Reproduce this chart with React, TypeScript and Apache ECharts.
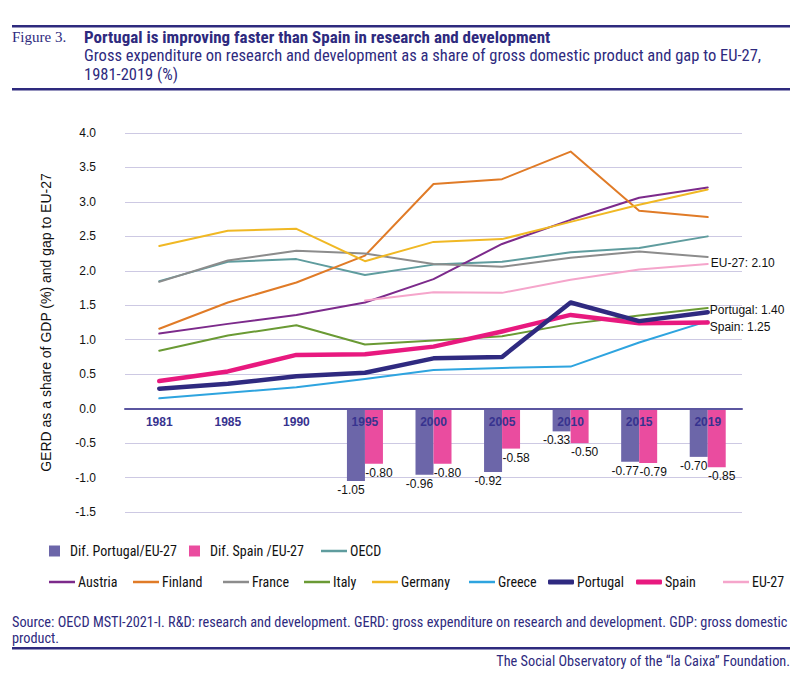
import { useEffect, useRef } from 'react'
import * as echarts from 'echarts'

// --- data ---
const years = ['1981', '1985', '1990', '1995', '2000', '2005', '2010', '2015', '2019']

const austria = [1.09, 1.23, 1.36, 1.54, 1.88, 2.39, 2.74, 3.06, 3.21]
const finland = [1.16, 1.54, 1.83, 2.22, 3.26, 3.33, 3.73, 2.87, 2.78]
const france = [1.84, 2.15, 2.29, 2.25, 2.1, 2.06, 2.19, 2.28, 2.2]
const italy = [0.84, 1.06, 1.21, 0.93, 0.99, 1.05, 1.23, 1.35, 1.46]
const germany = [2.36, 2.58, 2.61, 2.14, 2.42, 2.46, 2.71, 2.96, 3.18]
const greece = [0.15, 0.23, 0.31, 0.43, 0.56, 0.59, 0.61, 0.96, 1.27]
const portugal = [0.29, 0.36, 0.47, 0.52, 0.73, 0.75, 1.54, 1.27, 1.4]
const spain = [0.4, 0.54, 0.78, 0.79, 0.9, 1.12, 1.36, 1.24, 1.25]
const eu27 = [null, null, null, 1.57, 1.69, 1.68, 1.87, 2.02, 2.1]
const oecd = [1.85, 2.13, 2.17, 1.94, 2.09, 2.13, 2.27, 2.33, 2.5]

const gapPortugal = [null, null, null, -1.05, -0.96, -0.92, -0.33, -0.77, -0.7]
const gapSpain = [null, null, null, -0.8, -0.8, -0.58, -0.5, -0.79, -0.85]

const Y_MIN = -1.5
const Y_MAX = 4
const Y_STEP = 0.5

const NAVY = '#2e2a7e'
const NARROW = '"Liberation Sans Narrow", "Arial Narrow", "Roboto Condensed", "Liberation Sans", sans-serif'
const SANS = '"Liberation Sans", Arial, Helvetica, sans-serif'

const lineSeries = [
  { name: 'OECD', data: oecd, color: '#5f9c9e', width: 2 },
  { name: 'Austria', data: austria, color: '#7c2a8b', width: 2 },
  { name: 'Finland', data: finland, color: '#e07b27', width: 2 },
  { name: 'France', data: france, color: '#8c8c8c', width: 2 },
  { name: 'Italy', data: italy, color: '#6a9a34', width: 2 },
  { name: 'Germany', data: germany, color: '#f0b824', width: 2 },
  { name: 'Greece', data: greece, color: '#2ea4df', width: 2 },
  { name: 'EU-27', data: eu27, color: '#f5a5cb', width: 2 },
  { name: 'Spain', data: spain, color: '#e8197f', width: 4.5 },
  { name: 'Portugal', data: portugal, color: '#2f2a80', width: 4.5 },
]

const endLabels: Record<string, { text: string; offset: number[] }> = {
  'EU-27': { text: 'EU-27: 2.10', offset: [-2, -1] },
  Portugal: { text: 'Portugal: 1.40', offset: [-3, -2] },
  Spain: { text: 'Spain: 1.25', offset: [-3, 4] },
}

// legend layout: [name, left]
const legendRow1: [string, number][] = [
  ['Dif. Portugal/EU-27', 49],
  ['Dif. Spain /EU-27', 189],
  ['OECD', 321],
]
const legendRow2: [string, number][] = [
  ['Austria', 49],
  ['Finland', 133],
  ['France', 223],
  ['Italy', 304],
  ['Germany', 372],
  ['Greece', 469],
  ['Portugal', 548],
  ['Spain', 636],
  ['EU-27', 723],
]

const GRID = { left: 125, right: 58, top: 133, bottom: 161 }
const CHART_H = 673

export default function App() {
  const ref = useRef<HTMLDivElement>(null)

  useEffect(() => {
    if (!ref.current) return
    const chart = echarts.init(ref.current, undefined, { renderer: 'svg' })

    // category axis sits on the zero line of the value axis
    const plotH = CHART_H - GRID.top - GRID.bottom
    const zeroOffset = -plotH * ((0 - Y_MIN) / (Y_MAX - Y_MIN))

    const barLabel = (dx: number) => ({
      show: true,
      position: 'bottom' as const,
      distance: 3,
      offset: [dx, 0],
      color: '#111',
      fontSize: 12,
      fontFamily: SANS,
      formatter: (p: any) => (p.value == null ? '' : Number(p.value).toFixed(2)),
    })

    const legendBase = {
      padding: 0,
      itemGap: 0,
      selectedMode: false,
      textStyle: { fontFamily: NARROW, fontSize: 14, color: '#111' },
    }

    const lineWidth = (name: string) => lineSeries.find((s) => s.name === name)?.width ?? 2

    const legendItem = (name: string, left: number, top: number, isBar: boolean) => {
      const w = lineWidth(name)
      return {
        ...legendBase,
        left,
        top,
        itemWidth: isBar ? 11 : 26,
        itemHeight: isBar ? 11 : w > 3 ? 5 : 2.5,
        data: [{ name, icon: isBar ? 'rect' : w > 3 ? 'roundRect' : 'rect' }],
        textStyle: { ...legendBase.textStyle, padding: isBar ? [0, 0, 0, 5] : [0, 0, 0, -2] },
      }
    }

    const legends = [
      ...legendRow1.map(([name, left], i) => legendItem(name, left, 544, i < 2)),
      ...legendRow2.map(([name, left]) => legendItem(name, left, 575, false)),
    ]

    const text = (x: number, y: number, t: string, extra: any = {}) => ({
      type: 'text',
      x,
      y,
      style: {
        text: t,
        fill: NAVY,
        fontFamily: NARROW,
        fontSize: 16.5,
        verticalAlign: 'middle',
        ...extra,
      },
    })

    chart.setOption({
      animation: false,
      backgroundColor: '#fff',
      grid: GRID,
      legend: legends,
      xAxis: {
        type: 'category',
        data: years,
        z: 10,
        offset: zeroOffset,
        axisTick: { show: false },
        axisLine: { onZero: false, lineStyle: { color: '#5b56a0', width: 2 } },
        axisLabel: { color: '#37338f', fontWeight: 'bold', fontSize: 12, fontFamily: SANS, margin: 7 },
      },
      yAxis: {
        type: 'value',
        min: Y_MIN,
        max: Y_MAX,
        interval: Y_STEP,
        name: 'GERD as a share of GDP (%) and gap to EU-27',
        nameLocation: 'middle',
        nameGap: 72,
        nameTextStyle: { color: '#111', fontSize: 14, fontFamily: SANS },
        axisLabel: {
          color: '#111',
          fontSize: 12,
          fontFamily: SANS,
          margin: 29,
          formatter: (v: number) => v.toFixed(1),
        },
        splitLine: { lineStyle: { color: '#cdc9e3', width: 1 } },
        axisLine: { show: false },
        axisTick: { show: false },
      },
      series: [
        {
          name: 'Dif. Portugal/EU-27',
          type: 'bar',
          data: gapPortugal,
          barWidth: 18,
          barGap: '0%',
          itemStyle: { color: '#6c66a9' },
          label: barLabel(-5),
        },
        {
          name: 'Dif. Spain /EU-27',
          type: 'bar',
          data: gapSpain,
          barWidth: 18,
          itemStyle: { color: '#ea4c9f' },
          label: barLabel(5),
        },
        ...lineSeries.map((s) => ({
          name: s.name,
          type: 'line',
          data: s.data,
          symbol: 'none',
          z: 3,
          color: s.color,
          lineStyle: { color: s.color, width: s.width, cap: 'round', join: 'round' },
          endLabel: endLabels[s.name]
            ? {
                show: true,
                distance: 5,
                offset: endLabels[s.name].offset,
                color: '#111',
                fontSize: 12,
                fontFamily: SANS,
                formatter: endLabels[s.name].text,
              }
            : undefined,
        })),
      ],
      graphic: [
        { type: 'rect', shape: { x: 12, y: 25, width: 778, height: 2.5 }, style: { fill: NAVY } },
        text(12, 37, 'Figure 3.', { fontFamily: '"Liberation Serif", "DejaVu Serif", serif', fontSize: 15 }),
        text(84, 36.5, 'Portugal is improving faster than Spain in research and development', {
          fontWeight: 'bold',
          fontSize: 17,
          lineHeight: 17,
        }),
        text(
          84,
          65,
          'Gross expenditure on research and development as a share of gross domestic product and gap to EU-27,\n1981-2019 (%)',
          { lineHeight: 19 }
        ),
        { type: 'rect', shape: { x: 12, y: 88, width: 778, height: 2.5 }, style: { fill: NAVY } },
        text(
          12,
          630,
          'Source: OECD MSTI-2021-I. R&D: research and development. GERD: gross expenditure on research and development. GDP: gross domestic\nproduct.',
          { fontSize: 14.3, lineHeight: 16.5 }
        ),
        { type: 'rect', shape: { x: 12, y: 647, width: 778, height: 2.5 }, style: { fill: NAVY } },
        text(790, 661, 'The Social Observatory of the \u201cla Caixa\u201d Foundation.', { fontSize: 14.3, align: 'right' }),
      ],
    })

    return () => chart.dispose()
  }, [])

  return <div ref={ref} style={{ position: 'absolute', left: 0, top: 0, width: 800, height: 673 }} />
}
